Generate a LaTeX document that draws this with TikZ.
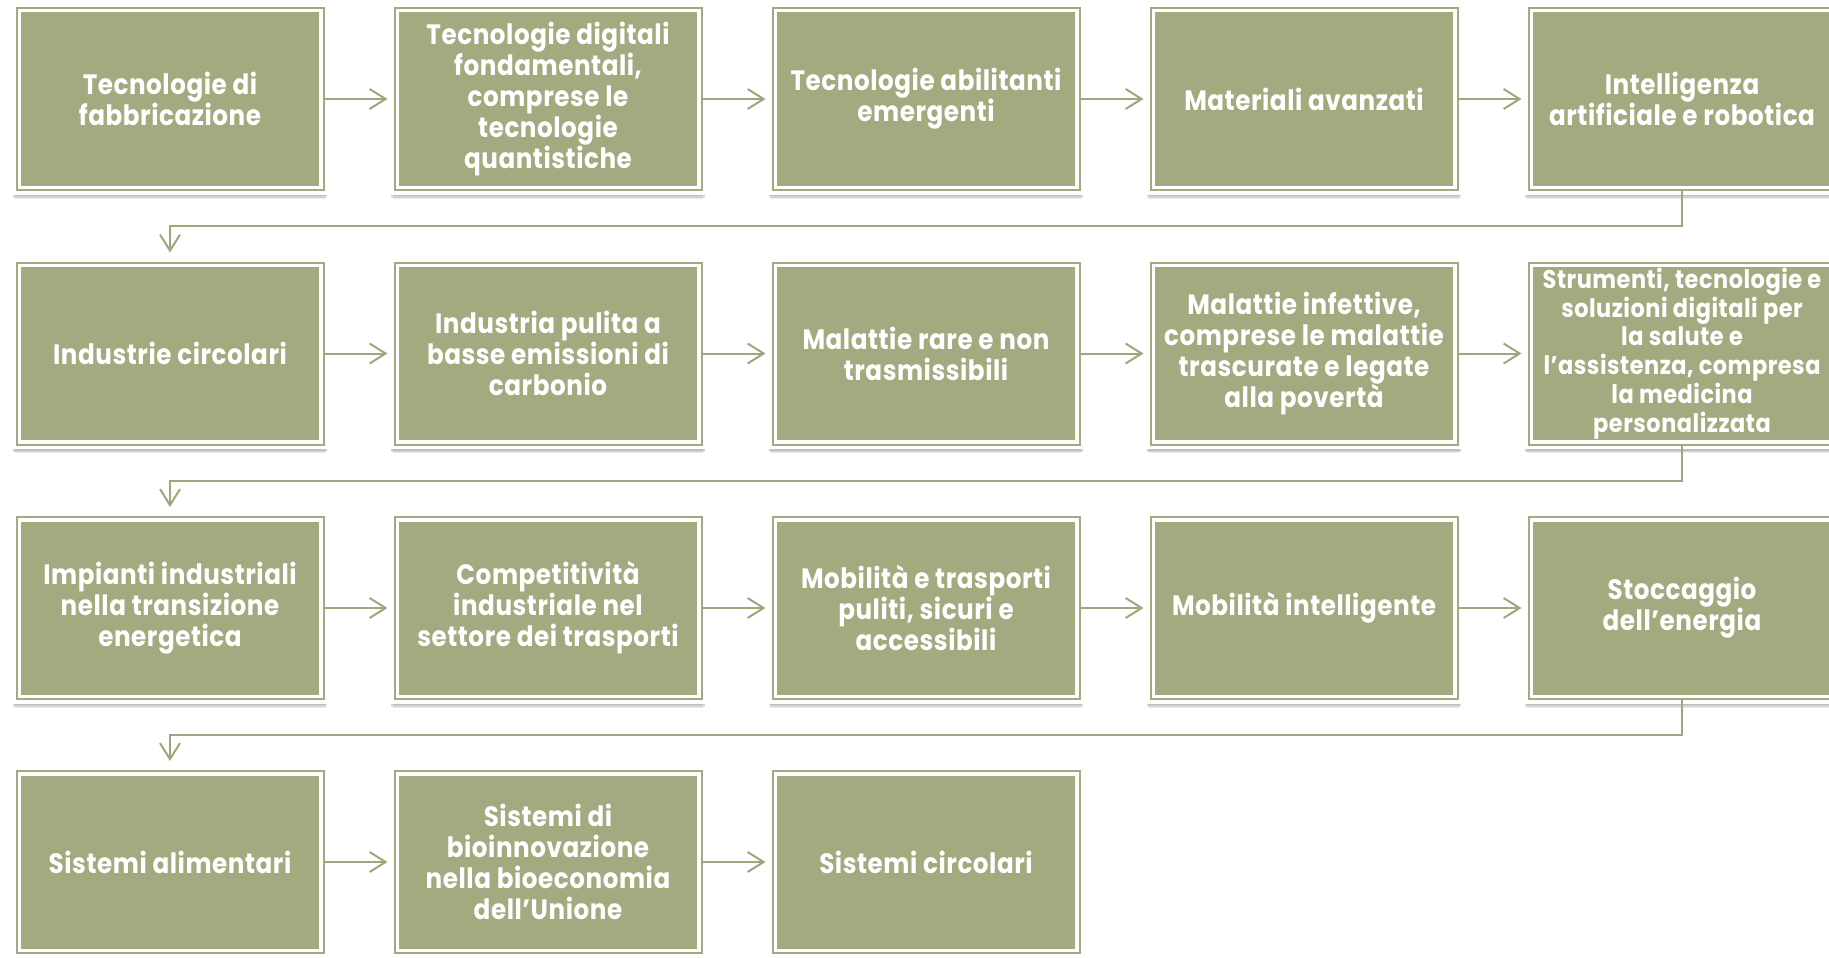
\documentclass[tikz,border=0pt]{standalone}
\usepackage{fontspec}
\newfontfamily\boxfont{Poppins}[FakeStretch=0.88,LetterSpace=2]
\usetikzlibrary{arrows.meta,shadows}
\definecolor{boxolive}{HTML}{A4AA80}
\definecolor{lineolive}{HTML}{A0A67B}
\tikzset{
  softshadow/.style={
    general shadow={shadow xshift=0pt, shadow yshift=-2pt, shadow scale=1.028, opacity=0.10, fill=black},
    general shadow={shadow xshift=0pt, shadow yshift=-4pt, shadow scale=1.024, opacity=0.10, fill=black},
    general shadow={shadow xshift=0pt, shadow yshift=-6pt, shadow scale=1.02, opacity=0.10, fill=black},
    general shadow={shadow xshift=0pt, shadow yshift=-8pt, shadow scale=1.01, opacity=0.08, fill=black}},
  box/.style={rectangle, minimum width=307pt, minimum height=182pt, inner sep=0pt, outer sep=0pt,
    softshadow,
    fill=boxolive, draw=white, double=boxolive, line width=3.5pt, double distance=2pt,
    text=white, align=center, font=\boxfont\bfseries\fontsize{28}{31}\selectfont},
  smalltext/.style={font=\boxfont\bfseries\fontsize{25.5}{28.7}\selectfont},
  conn/.style={draw=lineolive, line width=2pt, -{Straight Barb[length=16pt,width=20pt]}, shorten >=7pt},
  turn/.style={conn, shorten >=10pt}
}
\begin{document}
\begin{tikzpicture}[x=1pt,y=-1pt]
\useasboundingbox (0,0) rectangle (1829,958);
% row 1
\node[box] (b1) at (170,99) {Tecnologie di\\fabbricazione};
\node[box] (b2) at (548,99) {Tecnologie digitali\\fondamentali,\\comprese le\\tecnologie\\quantistiche};
\node[box] (b3) at (926,99) {Tecnologie abilitanti\\emergenti};
\node[box] (b4) at (1304,99) {Materiali avanzati};
\node[box] (b5) at (1682,99) {Intelligenza\\artificiale e robotica};
% row 2
\node[box] (b6) at (170,353.5) {Industrie circolari};
\node[box] (b7) at (548,353.5) {Industria pulita a\\basse emissioni di\\carbonio};
\node[box] (b8) at (926,353.5) {Malattie rare e non\\trasmissibili};
\node[box] (b9) at (1304,353.5) {Malattie infettive,\\comprese le malattie\\trascurate e legate\\alla povertà};
\node[box, smalltext] (b10) at (1682,353.5) {Strumenti, tecnologie e\\soluzioni digitali per\\la salute e\\l’assistenza, compresa\\la medicina\\personalizzata};
% row 3
\node[box] (b11) at (170,608) {Impianti industriali\\nella transizione\\energetica};
\node[box] (b12) at (548,608) {Competitività\\industriale nel\\settore dei trasporti};
\node[box] (b13) at (926,608) {Mobilità e trasporti\\puliti, sicuri e\\accessibili};
\node[box] (b14) at (1304,608) {Mobilità intelligente};
\node[box] (b15) at (1682,608) {Stoccaggio\\dell’energia};
% row 4
\node[box] (b16) at (170,862) {Sistemi alimentari};
\node[box] (b17) at (548,862) {Sistemi di\\bioinnovazione\\nella bioeconomia\\dell’Unione};
\node[box] (b18) at (926,862) {Sistemi circolari};
% horizontal connectors
\draw[conn] (b1.east) -- (b2.west);
\draw[conn] (b2.east) -- (b3.west);
\draw[conn] (b3.east) -- (b4.west);
\draw[conn] (b4.east) -- (b5.west);
\draw[conn] (b6.east) -- (b7.west);
\draw[conn] (b7.east) -- (b8.west);
\draw[conn] (b8.east) -- (b9.west);
\draw[conn] (b9.east) -- (b10.west);
\draw[conn] (b11.east) -- (b12.west);
\draw[conn] (b12.east) -- (b13.west);
\draw[conn] (b13.east) -- (b14.west);
\draw[conn] (b14.east) -- (b15.west);
\draw[conn] (b16.east) -- (b17.west);
\draw[conn] (b17.east) -- (b18.west);
% row-change connectors
\draw[turn] (b5.south) -- ++(0,36) -| (b6.north);
\draw[turn] (b10.south) -- ++(0,36) -| (b11.north);
\draw[turn] (b15.south) -- ++(0,36) -| (b16.north);
\end{tikzpicture}
\end{document}
